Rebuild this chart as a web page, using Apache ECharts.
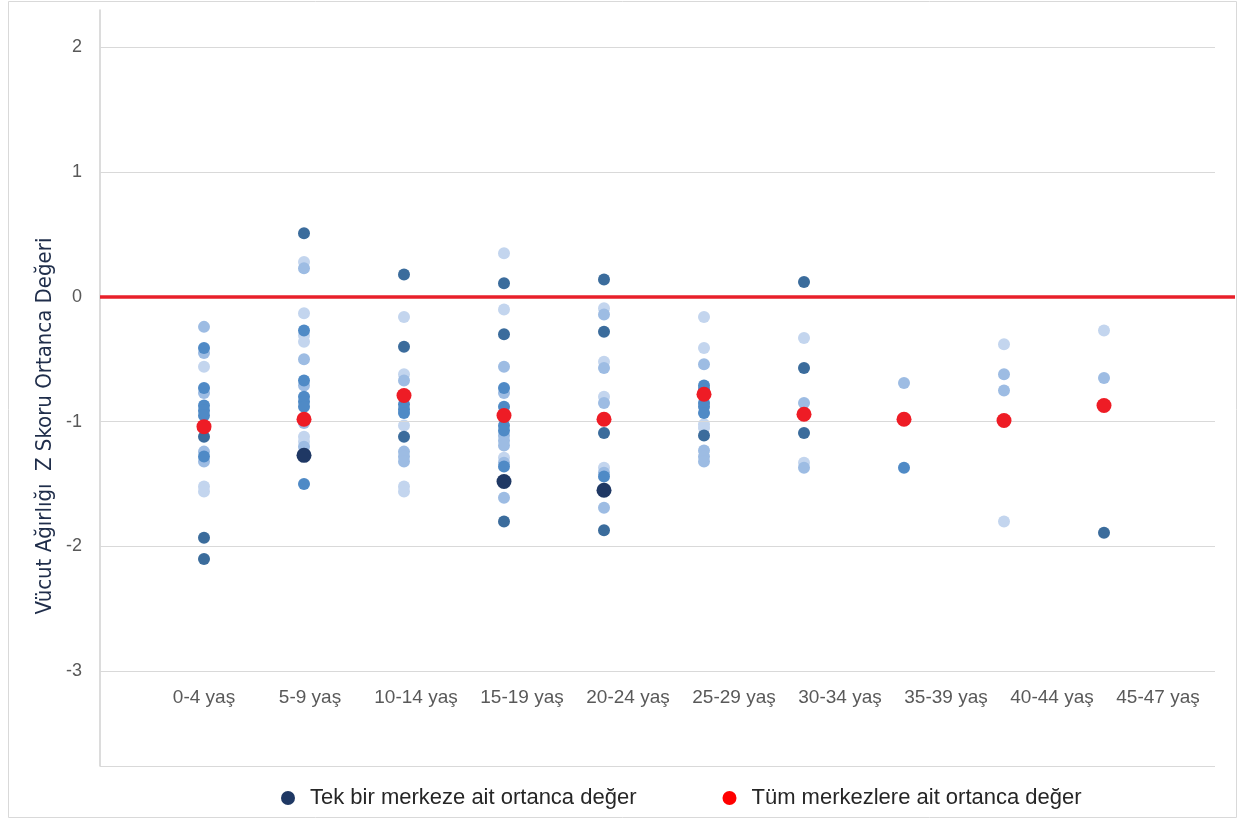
<!DOCTYPE html>
<html>
<head>
<meta charset="utf-8">
<script src="https://cdn.jsdelivr.net/npm/echarts@6/dist/echarts.min.js"></script>
<style>
  html, body { margin: 0; padding: 0; background: #fff; }
  #main { width: 1238px; height: 820px; }
</style>
</head>
<body>
<div id="main"></div>
<script>
// yas gruplari
var categories = ['0-4 yaş', '5-9 yaş', '10-14 yaş', '15-19 yaş', '20-24 yaş',
                  '25-29 yaş', '30-34 yaş', '35-39 yaş', '40-44 yaş', '45-47 yaş'];
var yTicks = [-3, -2, -1, 0, 1, 2];

// tek merkez ortancalari, [grup, deger], renk tonuna gore
var palePts = [
  [0, -0.56], [0, -1.52], [0, -1.56],
  [1, 0.28], [1, -0.13], [1, -0.31], [1, -0.36], [1, -1.12], [1, -1.16],
  [2, -0.16], [2, -0.62], [2, -1.03], [2, -1.52], [2, -1.56],
  [3, 0.35], [3, -0.10], [3, -1.29],
  [4, -0.09], [4, -0.52], [4, -0.80], [4, -1.37],
  [5, -0.16], [5, -0.41], [5, -1.02], [5, -1.05],
  [6, -0.33], [6, -1.33],
  [8, -0.38], [8, -1.80],
  [9, -0.27]
];
var lightPts = [
  [0, -0.24], [0, -0.45], [0, -0.77], [0, -1.24], [0, -1.32],
  [1, 0.23], [1, -0.50], [1, -0.71], [1, -1.01], [1, -1.20],
  [2, -0.67], [2, -1.24], [2, -1.28], [2, -1.32],
  [3, -0.56], [3, -0.77], [3, -1.11], [3, -1.15], [3, -1.19], [3, -1.33], [3, -1.61],
  [4, -0.14], [4, -0.57], [4, -0.85], [4, -1.41], [4, -1.69],
  [5, -0.54], [5, -1.23], [5, -1.28], [5, -1.32],
  [6, -0.85], [6, -1.37],
  [7, -0.69],
  [8, -0.62], [8, -0.75],
  [9, -0.65]
];
var midPts = [
  [0, -0.41], [0, -0.73], [0, -0.87], [0, -0.91], [0, -0.95], [0, -1.28],
  [1, -0.27], [1, -0.67], [1, -0.80], [1, -0.84], [1, -0.88], [1, -1.50],
  [2, -0.86], [2, -0.90], [2, -0.93],
  [3, -0.73], [3, -0.88], [3, -1.03], [3, -1.07], [3, -1.36],
  [4, -1.44],
  [5, -0.71], [5, -0.74], [5, -0.85], [5, -0.88], [5, -0.93],
  [7, -1.37]
];
var darkPts = [
  [0, -1.12], [0, -1.93], [0, -2.10],
  [1, 0.51],
  [2, 0.18], [2, -0.40], [2, -1.12],
  [3, 0.11], [3, -0.30], [3, -1.80],
  [4, 0.14], [4, -0.28], [4, -1.09], [4, -1.87],
  [5, -1.11],
  [6, 0.12], [6, -0.57], [6, -1.09],
  [9, -1.89]
];
var navyPts = [[1, -1.27], [3, -1.48], [4, -1.55]];

// tum merkezler ortancasi
var medians = [-1.04, -0.98, -0.79, -0.95, -0.98, -0.78, -0.94, -0.98, -0.99, -0.87];

var nameOne = 'Tek bir merkeze ait ortanca değer';
var nameAll = 'Tüm merkezlere ait ortanca değer';
var yName = 'Vücut Ağırlığı  Z Skoru Ortanca Değeri';

var FONT = '"Liberation Sans", Arial, sans-serif';
var xMin = -1.04, xPlotEnd = 10.11, xMax = 10.31;
var yMin = -3.76, yMax = 2.3;

var myChart = echarts.init(document.getElementById('main'));

function dots(data, color, size, z) {
  return {
    name: nameOne,
    type: 'scatter',
    xAxisIndex: 0, yAxisIndex: 0,
    symbol: 'circle',
    symbolSize: size,
    itemStyle: { color: color, opacity: 1 },
    z: z,
    silent: true,
    data: data
  };
}

var gridLines = yTicks.concat([yMin]).map(function (v) {
  return [{ coord: [xMin, v] }, { coord: [xPlotEnd, v] }];
});

var option = {
  backgroundColor: '#fff',
  animation: false,
  graphic: [
    {
      type: 'rect', silent: true, z: -10,
      shape: { x: 8.5, y: 1.5, width: 1228, height: 816 },
      style: { fill: 'none', stroke: '#d9d9d9', lineWidth: 1 }
    },
    {
      type: 'text', x: 45, y: 426, rotation: Math.PI / 2,
      style: {
        text: yName, fill: '#1f2d4a', fontSize: 22,
        fontFamily: '"Liberation Sans Narrow", "DejaVu Sans Condensed", sans-serif',
        align: 'center', verticalAlign: 'middle'
      }
    }
  ],
  legend: {
    left: 276, top: 782,
    icon: 'circle', itemWidth: 14, itemHeight: 14, itemGap: 86,
    selectedMode: false,
    textStyle: { fontSize: 22, color: '#262626', fontFamily: FONT, padding: [0, 0, 0, 10] },
    data: [
      { name: nameOne, itemStyle: { color: '#1f3864' } },
      { name: nameAll, itemStyle: { color: '#ff0000' } }
    ]
  },
  grid: [
    { left: 100, right: 3, top: 10, bottom: 54, outerBoundsMode: 'none' },
    { left: 151, right: 27, top: 10, bottom: 140, outerBoundsMode: 'none' }
  ],
  xAxis: [
    { gridIndex: 0, type: 'value', min: xMin, max: xMax, show: false },
    {
      gridIndex: 1, type: 'category', data: categories, boundaryGap: true,
      axisLine: { show: false }, axisTick: { show: false }, splitLine: { show: false },
      axisLabel: { color: '#595959', fontSize: 19, fontFamily: FONT, margin: 8, interval: 0 }
    }
  ],
  yAxis: [
    {
      gridIndex: 0, type: 'value', min: yMin, max: yMax,
      axisLine: { show: true, onZero: false, lineStyle: { color: '#d0d0d0', width: 1.5 } },
      axisTick: { show: false },
      splitLine: { show: false },
      axisLabel: {
        customValues: yTicks, color: '#595959', fontSize: 18, fontFamily: FONT, margin: 18
      }
    },
    { gridIndex: 1, type: 'value', show: false }
  ],
  series: [
    {
      type: 'scatter', xAxisIndex: 0, yAxisIndex: 0, data: [], silent: true, z: 1,
      markLine: {
        silent: true, symbol: ['none', 'none'], label: { show: false },
        lineStyle: { color: '#d9d9d9', width: 1.2, type: 'solid' },
        emphasis: { disabled: true },
        data: gridLines
      }
    },
    {
      type: 'scatter', xAxisIndex: 0, yAxisIndex: 0, data: [], silent: true, z: 2,
      markLine: {
        silent: true, symbol: ['none', 'none'], label: { show: false },
        lineStyle: { color: '#e8202a', width: 3.5, type: 'solid' },
        emphasis: { disabled: true },
        data: [[{ coord: [xMin, 0] }, { coord: [xMax, 0] }]]
      }
    },
    dots(palePts, '#c3d5ee', 12, 3),
    dots(lightPts, '#9dbce3', 12, 4),
    dots(midPts, '#4f8ac6', 12, 5),
    dots(darkPts, '#3b6c9c', 12, 6),
    dots(navyPts, '#1f3864', 15, 7),
    {
      name: nameAll,
      type: 'scatter', xAxisIndex: 0, yAxisIndex: 0,
      symbol: 'circle', symbolSize: 15, silent: true, z: 8,
      itemStyle: { color: '#ee1c25', opacity: 1 },
      data: medians.map(function (v, i) { return [i, v]; })
    }
  ]
};

myChart.setOption(option);
</script>
</body>
</html>
